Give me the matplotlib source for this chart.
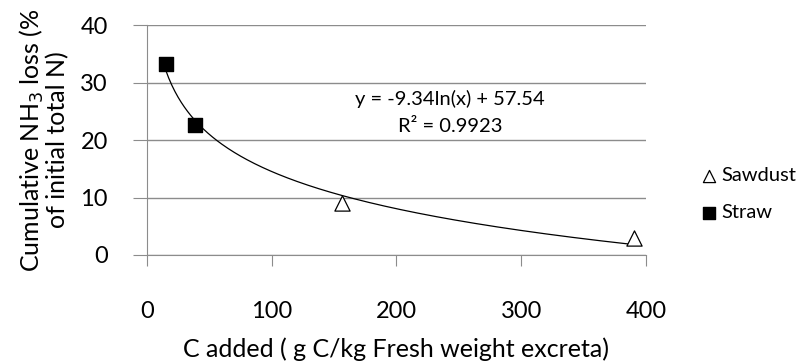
import numpy as np
import matplotlib.pyplot as plt

plt.rcParams['font.family'] = ['Lato', 'DejaVu Sans']

sawdust_x = [156, 390]
sawdust_y = [9.0, 2.9]
straw_x = [15, 39]
straw_y = [33.2, 22.6]
a, b = -9.34, 57.54

fig = plt.figure(figsize=(7.98, 3.64), dpi=100)
ax = fig.add_axes([0.184, 0.2995, 0.6255, 0.6315])

xs = np.linspace(15, 390, 300)
ax.plot(xs, a * np.log(xs) + b, color='black', lw=0.9, zorder=2)
ax.scatter(sawdust_x, sawdust_y, marker='^', s=120, facecolor='white',
           edgecolor='black', linewidth=0.9, zorder=3, label='Sawdust')
ax.scatter(straw_x, straw_y, marker='s', s=100, color='black', zorder=3,
           label='Straw')

ax.set_xlim(0, 400)
ax.set_ylim(0, 40)
ax.set_xticks([0, 100, 200, 300, 400])
ax.set_yticks([0, 10, 20, 30, 40])
ax.yaxis.grid(True, color='#8c8c8c', lw=1)
ax.set_axisbelow(True)
for s in ['top', 'right']:
    ax.spines[s].set_visible(False)
for s in ['left', 'bottom']:
    ax.spines[s].set_color('#8c8c8c')
ax.tick_params(axis='x', direction='out', length=8, color='#8c8c8c',
               labelsize=17, pad=25)
ax.tick_params(axis='y', direction='out', length=10, color='#8c8c8c',
               labelsize=17, pad=18)

ax.text(243, 27.1, 'y = -9.34ln(x) + 57.54', ha='center', va='center',
        fontsize=14.5)
ax.text(243, 22.3, 'R² = 0.9923', ha='center', va='center', fontsize=14.5)

ax.set_xlabel('C added ( g C/kg Fresh weight excreta)', fontsize=18,
              labelpad=11)
ax.set_ylabel('Cumulative NH$_3$ loss (%\nof initial total N)', fontsize=18,
              labelpad=8, linespacing=1.0)

leg = ax.legend(loc='center left', bbox_to_anchor=(1.07, 0.265), frameon=False,
                fontsize=14.5, handletextpad=0.1, markerscale=0.8,
                labelspacing=1.0, handlelength=1)

fig.savefig('out.png', dpi=100)
